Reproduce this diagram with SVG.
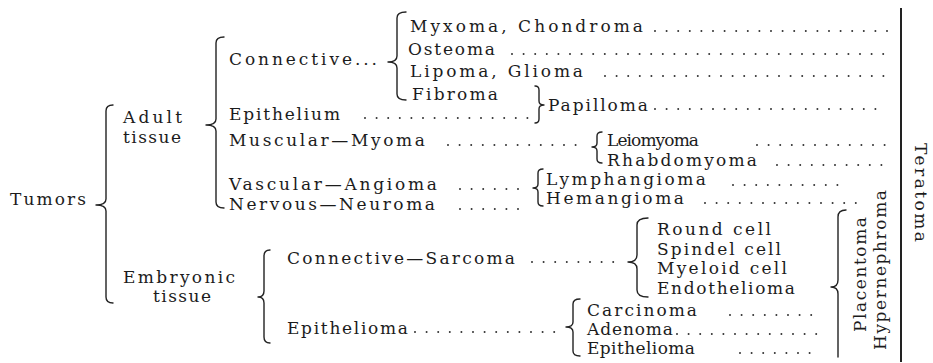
<svg xmlns="http://www.w3.org/2000/svg" width="933" height="363" viewBox="0 0 933 363">
<style>
.br{fill:none;stroke:#222;stroke-width:1.4;stroke-linecap:round;stroke-linejoin:round}
.dl{fill:none;stroke:#333;stroke-width:2;stroke-linecap:round;stroke-dasharray:0 11.6}
.vl{fill:none;stroke:#222;stroke-width:2}
</style>
<rect width="933" height="363" fill="#fff"/>
<g id="connectors">
<path class="br" d="M113,105 Q106,105 106,111 V199 Q106,205 96,205 Q106,205 106,211 V297 Q106,303 113,303"/>
<path class="br" d="M224,37 Q216,37 216,43 V119 Q216,125 206,125 Q216,125 216,131 V202 Q216,208 224,208"/>
<path class="br" d="M406,12 Q397,12 397,18 V56 Q397,62 388,62 Q397,62 397,68 V94 Q397,100 406,100"/>
<path class="br" d="M535,86 Q539,86 539,90 V101 Q539,105 544,105 Q539,105 539,109 V119 Q539,123 535,123"/>
<path class="br" d="M602,132 Q597,132 597,136 V143 Q597,147 592,147 Q597,147 597,151 V159 Q597,163 602,163"/>
<path class="br" d="M543,169 Q538,169 538,173 V184 Q538,188 533,188 Q538,188 538,192 V202 Q538,206 543,206"/>
<path class="br" d="M270,250 Q264,250 264,256 V291 Q264,297 258,297 Q264,297 264,303 V337 Q264,343 270,343"/>
<path class="br" d="M648,218 Q637,218 637,225 V255 Q637,262 628,262 Q637,262 637,269 V290 Q637,297 648,297"/>
<path class="br" d="M580,299 Q573,299 573,304 V322 Q573,327 566,327 Q573,327 573,332 V351 Q573,356 580,356"/>
<path class="br" d="M846,210 Q838,210 838,217 V280 Q838,287 831,287 Q838,287 838,294 V357"/>
<path class="vl" d="M901,8 V362"/>
<path class="dl" d="M655,31 H888"/>
<path class="dl" d="M512,54 H888"/>
<path class="dl" d="M605,76 H888"/>
<path class="dl" d="M365,118 H528"/>
<path class="dl" d="M655,109 H881"/>
<path class="dl" d="M448,145 H586"/>
<path class="dl" d="M757,145 H886"/>
<path class="dl" d="M777,165 H886"/>
<path class="dl" d="M460,189 H524"/>
<path class="dl" d="M460,209 H524"/>
<path class="dl" d="M733,185 H846"/>
<path class="dl" d="M705,203 H866"/>
<path class="dl" d="M532,262 H624"/>
<path class="dl" d="M415,332 H558"/>
<path class="dl" d="M730,315 H821"/>
<path class="dl" d="M677,334 H821"/>
<path class="dl" d="M740,353 H821"/>
</g>
<g font-family="DejaVu Serif, Liberation Serif, serif" font-size="17" fill="#1c1c1c" lengthAdjust="spacing">
<g id="tumors"><text x="10" y="205" textLength="76">Tumors</text></g>
<g id="adult"><text x="123" y="123" textLength="59">Adult</text><text x="123" y="143" textLength="58">tissue</text></g>
<g id="embryonic"><text x="123" y="283" textLength="112">Embryonic</text><text x="153" y="302" textLength="58">tissue</text></g>
<g id="connective"><text x="229" y="65" textLength="148">Connective...</text></g>
<g id="epithelium"><text x="229" y="120" textLength="111">Epithelium</text></g>
<g id="muscular"><text x="229" y="146" textLength="196">Muscular—Myoma</text></g>
<g id="vascular"><text x="229" y="190" textLength="208">Vascular—Angioma</text></g>
<g id="nervous"><text x="229" y="210" textLength="206">Nervous—Neuroma</text></g>
<g id="myxoma"><text x="410" y="32" textLength="233">Myxoma, Chondroma</text></g>
<g id="osteoma"><text x="408" y="55" textLength="87">Osteoma</text></g>
<g id="lipoma"><text x="410" y="77" textLength="173">Lipoma,  Glioma</text></g>
<g id="fibroma"><text x="412" y="100" textLength="86">Fibroma</text></g>
<g id="papilloma"><text x="548" y="111" textLength="100">Papilloma</text></g>
<g id="leiomyoma"><text x="607" y="146" textLength="92">Leiomyoma</text></g>
<g id="rhabdomyoma"><text x="607" y="166" textLength="150">Rhabdomyoma</text></g>
<g id="lymphangioma"><text x="546" y="185" textLength="160">Lymphangioma</text></g>
<g id="hemangioma"><text x="546" y="204" textLength="138">Hemangioma</text></g>
<g id="sarcoma"><text x="287" y="264" textLength="228">Connective—Sarcoma</text></g>
<g id="epithelioma-main"><text x="287" y="334" textLength="121">Epithelioma</text></g>
<g id="round"><text x="657" y="235" textLength="114">Round cell</text></g>
<g id="spindel"><text x="657" y="255" textLength="124">Spindel cell</text></g>
<g id="myeloid"><text x="657" y="274" textLength="130">Myeloid cell</text></g>
<g id="endothelioma"><text x="657" y="294" textLength="138">Endothelioma</text></g>
<g id="carcinoma"><text x="587" y="316" textLength="110">Carcinoma</text></g>
<g id="adenoma"><text x="587" y="335" textLength="86">Adenoma</text></g>
<g id="epithelioma-sub"><text x="587" y="354" textLength="108">Epithelioma</text></g>
<g id="placentoma"><text transform="translate(866,332) rotate(-90)" textLength="115">Placentoma</text></g>
<g id="hypernephroma"><text transform="translate(886,350) rotate(-90)" textLength="160">Hypernephroma</text></g>
<g id="teratoma"><text transform="translate(915,143) rotate(90)" textLength="99">Teratoma</text></g>
</g>
</svg>
